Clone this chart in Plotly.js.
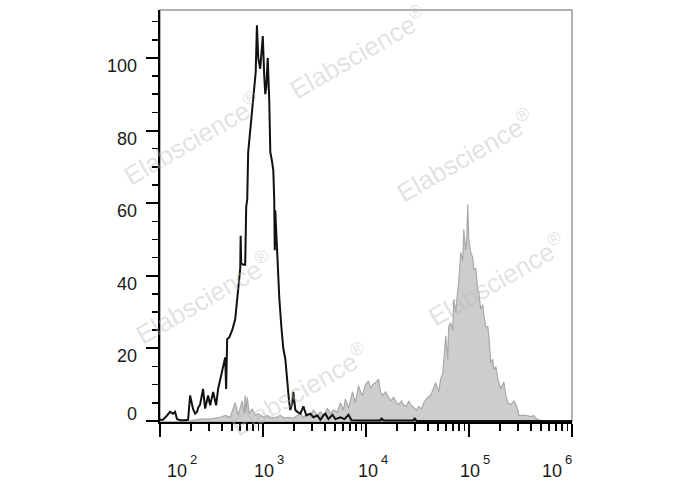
<!DOCTYPE html>
<html>
<head>
<meta charset="utf-8">
<script src="https://cdn.plot.ly/plotly-3.0.1.min.js"></script>
<style>html,body{margin:0;padding:0;background:#fff;}#chart{width:688px;height:490px;}</style>
</head>
<body>
<div id="chart"></div>
<script>
// Black (control) histogram: log10 fluorescence vs count
const blackLogX = [2.000,2.029,2.068,2.097,2.127,2.146,2.165,2.195,2.243,2.273,2.292,2.321,2.341,2.360,2.370,2.389,2.418,2.438,2.467,2.487,2.516,2.545,2.564,2.584,2.603,2.623,2.633,2.642,2.652,2.672,2.701,2.730,2.749,2.759,2.779,2.783,2.788,2.808,2.827,2.837,2.847,2.856,2.876,2.895,2.915,2.929,2.941,2.954,2.973,2.998,3.012,3.022,3.032,3.046,3.061,3.071,3.085,3.100,3.109,3.114,3.119,3.139,3.158,3.178,3.197,3.217,3.236,3.251,3.265,3.285,3.294,3.314,3.333,3.363,3.392,3.421,3.460,3.489,3.528,3.557,3.586,3.606,3.635,3.674,3.703,3.752,3.791,3.830,3.859,3.946,4.141,4.150,4.170,4.462,4.471,4.491,6.000];
const blackCount = [0.3,0.3,1.5,2.5,2.0,2.5,0.5,0.2,0.2,0.3,7,3.3,2.0,2.5,3.6,4.5,8.8,3.4,7,4.3,8,4.3,8.8,11.5,13.5,16,17.5,8.8,22.5,23,25,28,33.5,36,42,51,43.5,43,43,59,61,74,80,85,90,96,109,100,97,106,95,90,92,100,88,74,72,69,61,47,58,45,34,26,20,17,10,6,3,5,8,3,2.5,2,4,1.5,2,1,1.5,0.3,1.5,2,0.5,1.7,0.5,1,0.5,1.7,0.2,0.1,0.1,0.8,0.1,0.1,0.8,0,0];

// Gray (stained) histogram
const grayLogX = [2.292,2.389,2.487,2.584,2.633,2.681,2.730,2.759,2.798,2.818,2.827,2.837,2.847,2.866,2.895,2.925,2.954,2.973,3.012,3.041,3.090,3.129,3.168,3.207,3.246,3.294,3.333,3.363,3.392,3.431,3.460,3.489,3.528,3.557,3.596,3.625,3.655,3.684,3.723,3.752,3.781,3.800,3.830,3.869,3.898,3.927,3.946,3.966,3.995,4.024,4.044,4.063,4.092,4.122,4.141,4.161,4.190,4.219,4.238,4.268,4.297,4.316,4.345,4.365,4.394,4.414,4.433,4.462,4.491,4.511,4.540,4.560,4.599,4.628,4.657,4.676,4.706,4.725,4.745,4.774,4.793,4.803,4.822,4.842,4.852,4.871,4.891,4.900,4.920,4.939,4.949,4.968,4.978,4.988,4.998,5.017,5.036,5.046,5.066,5.085,5.095,5.114,5.134,5.144,5.163,5.183,5.192,5.212,5.231,5.241,5.260,5.280,5.309,5.338,5.358,5.377,5.406,5.436,5.455,5.474,5.484,5.504,5.552,5.601,5.630,5.650,5.679,5.747];
const grayCount = [0,0.5,0.5,1,1.5,1,5,1.5,5.5,2,7,2.5,6.5,2,3.3,1.5,2,1.5,1,1.5,0.8,1,1.5,0.8,1,0.7,1.5,2,1,2,1.5,3,1.5,2.5,1.5,3.5,2,3,2.5,5,3,6,3.5,8,5,9.7,8,7,10,11,9,10,10.5,11.5,8,7,8,6.5,5.5,6.5,5,4.5,5.5,4.4,4,5.5,4.5,3.7,3,4,3.3,5,6.5,7,9,10.5,8,11.5,13,23.4,17,26,27,25,33.5,30,36,38,46.4,44,52.7,47,50,59.6,50,46.4,45,41.8,42,36,35.4,30.8,32,29,26,26,23.4,16,17,14,15,11.5,8.8,10.7,7,5,4.5,5.5,4.5,3,1.5,1.5,1.5,1.2,1.5,0.7,0.2,0];

// Axis ticks and labels
const yTickVals = [0, 20, 40, 60, 80, 100];
const xTickExps = [2, 3, 4, 5, 6];
const watermarkText = 'Elabscience<sup>®</sup>';

const toLin = a => a.map(v => Math.pow(10, v));

const traces = [
  {x: toLin(grayLogX), y: grayCount, type: 'scatter', mode: 'lines', fill: 'tozeroy',
   fillcolor: '#cdcdcd', line: {color: '#a9a9a9', width: 1.2}, hoverinfo: 'skip'},
  {x: toLin(blackLogX), y: blackCount, type: 'scatter', mode: 'lines',
   line: {color: '#111111', width: 2}, hoverinfo: 'skip'}
];

const minorX = [];
for (let e = 2; e < 6; e++) for (let d = 2; d <= 9; d++) minorX.push(d * Math.pow(10, e));

const font = 'Liberation Sans, Arial, sans-serif';
const annotations = [];
// watermarks (paper coordinates, centred)
const wm = [[0.480, 0.898], [0.078, 0.689], [0.740, 0.648], [0.107, 0.303], [0.818, 0.345], [0.340, 0.078]];
wm.forEach(p => {
  annotations.push({xref: 'paper', yref: 'paper', x: p[0], y: p[1], xanchor: 'center', yanchor: 'middle',
    showarrow: false, text: watermarkText, textangle: -30,
    font: {family: font, size: 26, color: 'rgba(185,185,185,0.42)'}});
});
yTickVals.forEach(v => {
  annotations.push({xref: 'paper', yref: 'y', x: 0, y: v, xshift: -21, yshift: v === 0 ? 7 : -8,
    xanchor: 'right', yanchor: 'middle', showarrow: false, text: String(v),
    font: {family: font, size: 18, color: '#1a1a1a'}});
});
// shift of label group so it stays inside axis extent
const xLabShift = {2: 17, 3: 1, 4: 2, 5: 1, 6: -20};
xTickExps.forEach(e => {
  annotations.push({xref: 'x', yref: 'paper', x: e, y: 0, yshift: -49, xshift: xLabShift[e],
    xanchor: 'center', yanchor: 'middle', showarrow: false, text: '10',
    font: {family: font, size: 18, color: '#1a1a1a'}});
  annotations.push({xref: 'x', yref: 'paper', x: e, y: 0, yshift: -37, xshift: xLabShift[e] + 11,
    xanchor: 'left', yanchor: 'middle', showarrow: false, text: String(e),
    font: {family: font, size: 13, color: '#1a1a1a'}});
});

const layout = {
  width: 688, height: 490,
  margin: {l: 160, r: 116, t: 10, b: 68, pad: 0},
  paper_bgcolor: '#ffffff', plot_bgcolor: '#ffffff',
  showlegend: false,
  xaxis: {type: 'log', range: [2, 6], showgrid: false, zeroline: false,
    showline: true, linecolor: '#000', linewidth: 2,
    tickmode: 'array', tickvals: xTickExps.map(e => Math.pow(10, e)), showticklabels: false,
    ticks: 'outside', ticklen: 13, tickwidth: 2, tickcolor: '#000',
    minor: {tickmode: 'array', tickvals: minorX, ticks: 'outside', ticklen: 7, tickwidth: 1.5, tickcolor: '#000', showgrid: false}},
  yaxis: {range: [-0.3, 113.2], showgrid: false, zeroline: false,
    showline: true, linecolor: '#000', linewidth: 2,
    tickmode: 'array', tickvals: yTickVals, showticklabels: false,
    ticks: 'outside', ticklen: 12, tickwidth: 2, tickcolor: '#000',
    minor: {dtick: 5, tick0: 0, ticks: 'outside', ticklen: 6, tickwidth: 1.5, tickcolor: '#000', showgrid: false}},
  shapes: [{type: 'rect', xref: 'paper', yref: 'paper', x0: 0, x1: 1, y0: 0, y1: 1,
    line: {color: '#9a9a9a', width: 1.5}, layer: 'below'}],
  annotations: annotations
};

Plotly.newPlot('chart', traces, layout, {staticPlot: true, displayModeBar: false});
</script>
</body>
</html>
